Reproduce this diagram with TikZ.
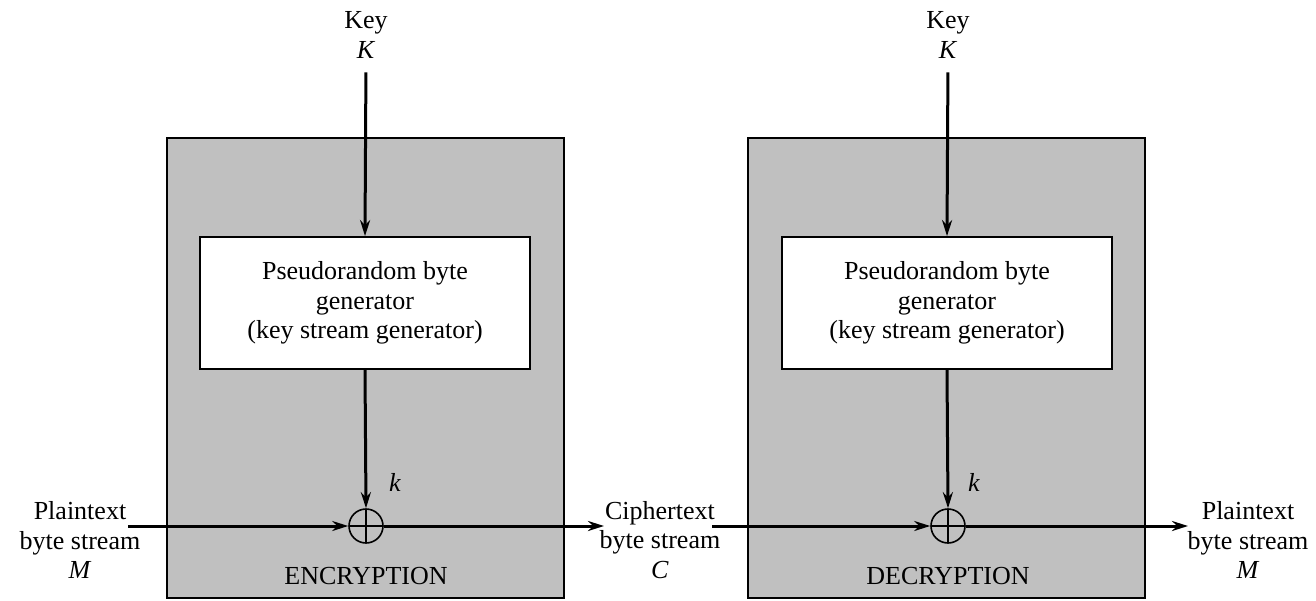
\documentclass[tikz,border=0pt]{standalone}
\usepackage{fontspec}
\setmainfont{Liberation Serif}
\usetikzlibrary{arrows.meta}
\definecolor{boxgray}{RGB}{192,192,192}
\tikzset{
  txt/.style={font=\fontsize{26}{29.5}\selectfont, align=center, inner sep=0pt},
  graybox/.style={draw, fill=boxgray, line width=1.5pt, minimum width=397pt, minimum height=460pt, inner sep=0pt},
  genbox/.style={draw, fill=white, line width=1.8pt, minimum width=330pt, minimum height=132pt, inner sep=0pt, font=\fontsize{26}{29.5}\selectfont, align=center},
  xorc/.style={draw, circle, line width=1.6pt, minimum size=34pt, inner sep=0pt,
    path picture={\draw[line width=1.6pt] (path picture bounding box.north) -- (path picture bounding box.south)
      (path picture bounding box.west) -- (path picture bounding box.east);}},
  arr/.style={line width=3pt, -{Stealth[length=16pt, width=10pt]}}
}
\begin{document}
\begin{tikzpicture}[x=1pt,y=-1pt]
\useasboundingbox (0,0) rectangle (1316,600);
% gray boxes
\node[graybox] (boxL) at (365.5,368) {};
\node[graybox] (boxR) at (946.5,368) {};
% generators
\node[genbox] (genL) at (365,303) {Pseudorandom byte\\generator\\(key stream generator)};
\node[genbox] (genR) at (947,303) {Pseudorandom byte\\generator\\(key stream generator)};
% keys
\node[txt] (keyL) at (366,35) {Key\\\textit{K}};
\node[txt] (keyR) at (948,35) {Key\\\textit{K}};
% xor
\node[xorc] (xorL) at (366,526) {};
\node[xorc] (xorR) at (948,526) {};
% labels
\node[txt] (kL) at (395,482) {\textit{k}};
\node[txt] (kR) at (974,482) {\textit{k}};
\node[txt] (encL) at (366,576) {ENCRYPTION};
\node[txt] (decR) at (948,576) {DECRYPTION};
\node[txt] (plainL) at (80,540) {Plaintext\\byte stream\\\textit{M}};
\node[txt] (ciph) at (660,540) {Ciphertext\\byte stream\\\textit{C}};
\node[txt] (plainR) at (1248,540) {Plaintext\\byte stream\\\textit{M}};
% coordinates
\coordinate (inL) at (128,526);
\coordinate (outL) at (604,526);
\coordinate (inR) at (712,526);
\coordinate (outR) at (1188,526);
% connectors
\draw[arr, shorten <=14pt] (keyL.south) -- (genL.north);
\draw[arr, shorten <=14pt] (keyR.south) -- (genR.north);
\draw[arr] (genL.south) -- (xorL.north);
\draw[arr] (genR.south) -- (xorR.north);
\draw[arr] (inL) -- (xorL.west);
\draw[arr] (xorL.east) -- (outL);
\draw[arr] (inR) -- (xorR.west);
\draw[arr] (xorR.east) -- (outR);
\end{tikzpicture}
\end{document}
